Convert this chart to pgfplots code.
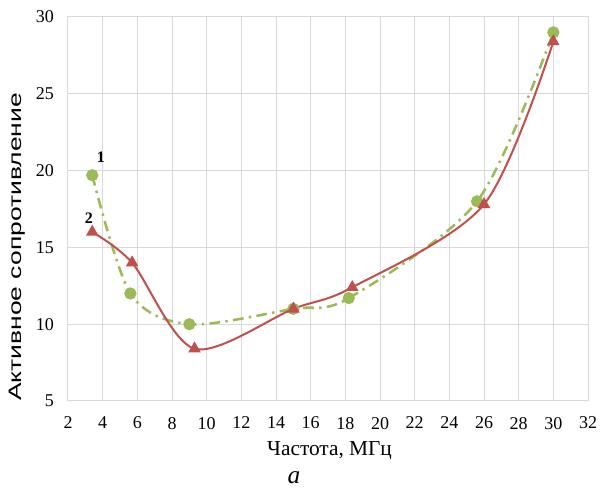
\documentclass[border=0pt]{standalone}
\usepackage{fontspec}
\setmainfont{Liberation Serif}
\setsansfont{Liberation Sans}
\usepackage{graphicx}
\usepackage{pgfplots}
\pgfplotsset{compat=1.18}
\definecolor{gridc}{RGB}{217,217,217}
\definecolor{redc}{RGB}{192,80,77}
\definecolor{greenc}{RGB}{155,187,89}
\begin{document}
\begin{tikzpicture}
\begin{axis}[
  scale only axis,
  width=390pt, height=288pt,
  xmin=2, xmax=32, ymin=5, ymax=30,
  xtick={2,4,...,32}, ytick={5,10,...,30},
  grid=major,
  major grid style={gridc, line width=0.75pt},
  axis line style={gridc, line width=0.75pt},
  tick style={draw=none},
  tick label style={font=\fontsize{13.5}{15}\selectfont},
  /pgf/number format/assume math mode=true,
  xticklabel style={yshift=-8.5pt},
  yticklabel style={xshift=-7pt},
  xlabel={Частота, МГц},
  ylabel={\scalebox{1.47}[1]{Активное сопротивление}},
  xlabel style={font=\fontsize{16}{18}\selectfont, at={(axis description cs:0.503,-0.128)}, anchor=center},
  ylabel style={font=\sffamily\fontsize{13.5}{15}\selectfont, at={(axis description cs:-0.0974,0.401)}, anchor=center},
  clip=false,
]
\addplot[color=greenc, line width=1.9pt, smooth, dash pattern=on 8pt off 4pt on 1.8pt off 4pt,
  mark=*, mark size=3.6pt, mark options={solid, fill=greenc, draw=greenc}]
  coordinates {(3.4,19.7) (5.6,12.0) (9.0,10.0) (15.0,11.0) (18.2,11.7) (25.6,18.0) (30.0,29.0)};
\addplot[color=redc, line width=1.5pt, smooth,
  mark=triangle*, mark size=4pt, mark options={solid, fill=redc, draw=redc}]
  coordinates {(3.4,16.0) (5.7,14.0) (9.3,8.4) (15.0,11.0) (18.4,12.4) (26.0,17.8) (30.0,28.4)};
\node[font=\bfseries\fontsize{12}{14}\selectfont] at (axis cs:3.9,20.9) {1};
\node[font=\bfseries\fontsize{12}{14}\selectfont] at (axis cs:3.2,16.9) {2};
\end{axis}
\node[font=\itshape\fontsize{19}{21}\selectfont] at (169.5pt,-57.5pt) {а};
\path[use as bounding box] (-51pt,-63.75pt) rectangle (400.5pt,300.75pt);
\end{tikzpicture}
\end{document}
